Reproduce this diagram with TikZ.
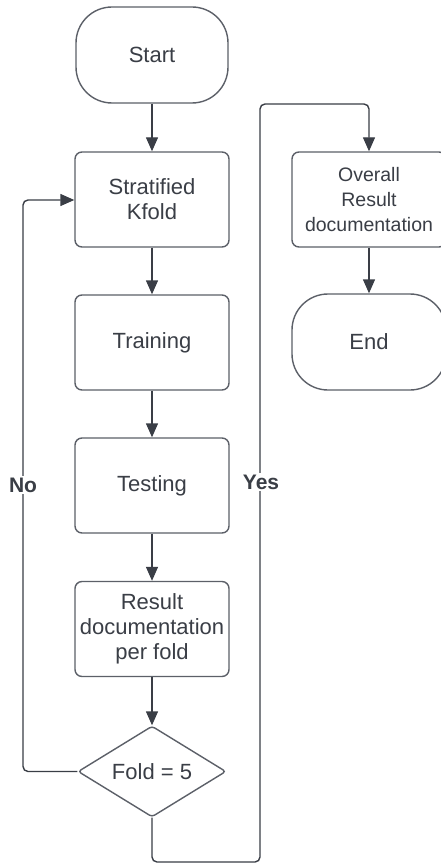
\documentclass[tikz,border=0pt]{standalone}
\usepackage{fontspec}
\setmainfont{Liberation Sans}
\usetikzlibrary{shapes.geometric,arrows.meta}
\definecolor{ink}{HTML}{3A3E46}
\definecolor{edge}{HTML}{5C6068}
\tikzset{
  base/.style={draw=edge, line width=1.4pt, text=ink, align=center, inner sep=0pt,
    font=\fontsize{22}{25}\selectfont},
  procbox/.style={base, rectangle, rounded corners=7pt, minimum width=154pt, minimum height=95pt},
  termbox/.style={base, rectangle, rounded corners=36pt, minimum width=152pt, minimum height=96pt},
  decbox/.style={base, diamond, rounded corners=3pt, minimum width=148pt, minimum height=91pt},
  conn/.style={draw=ink, line width=1.4pt, rounded corners=5pt, -{Triangle[width=12pt,length=14pt]}},
  lbl/.style={fill=white, text=ink, inner sep=2pt, font=\fontsize{21}{25}\selectfont\bfseries}
}
\begin{document}
\begin{tikzpicture}[x=1pt,y=-1pt]
\useasboundingbox (0,0) rectangle (441,866);
\clip (0,0) rectangle (441,866);
\fill[white] (0,0) rectangle (441,866);
\node[termbox] (start) at (152,55) {Start};
\node[procbox] (skf) at (152,199.5) {Stratified\\Kfold};
\node[procbox] (train) at (152,342.5) {Training};
\node[procbox] (test) at (152,485.5) {Testing};
\node[procbox] (res) at (152,629) {Result\\documentation\\per fold};
\node[decbox] (dec) at (152,771.5) {\makebox[0pt]{Fold = 5}};
\node[procbox, font=\fontsize{19.5}{25}\selectfont] (over) at (369,199.5) {Overall\\Result\\documentation};
\node[termbox, minimum width=154pt] (end) at (369,342) {End};
\coordinate (n1) at (23,771.5);
\coordinate (n2) at (23,200);
\coordinate (y1) at (152,862);
\coordinate (y2) at (260,862);
\coordinate (y3) at (260,104);
\coordinate (y4) at (369,104);
\draw[conn] (start) -- (skf);
\draw[conn] (skf) -- (train);
\draw[conn] (train) -- (test);
\draw[conn] (test) -- (res);
\draw[conn] (res) -- (dec);
\draw[conn] (over) -- (end);
\draw[conn] (dec.west) -- (n1) -- (n2) -- (skf.west |- n2);
\draw[conn] (dec.south) -- (y1) -- (y2) -- (y3) -- (y4) -- (over.north);
\node[lbl] (no) at (23,485) {No};
\node[lbl] (yes) at (261,482) {Yes};
\end{tikzpicture}
\end{document}
